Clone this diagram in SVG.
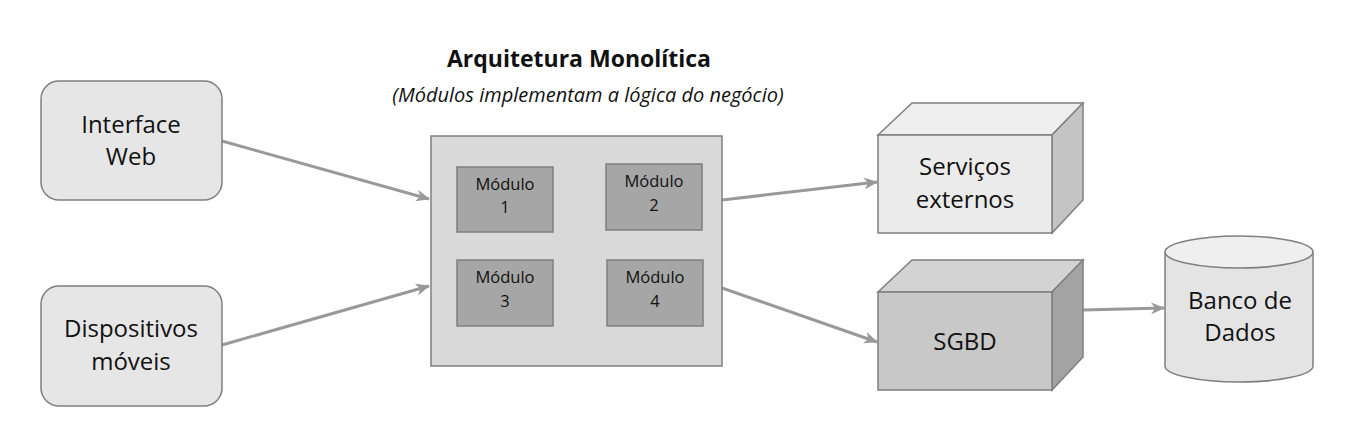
<svg xmlns="http://www.w3.org/2000/svg" width="1362" height="432" viewBox="0 0 1362 432">
<defs>
<style>
text{font-family:"Open Sans","Liberation Sans",sans-serif;fill:#111;text-anchor:middle}
.big{font-size:24px}
.mod{font-size:16.5px}
.stk{stroke:#7f7f7f;stroke-width:1.5}
.conn{stroke:#999;stroke-width:3;fill:none;marker-end:url(#ah)}
</style>
<marker id="ah" viewBox="0 0 14 12" refX="13" refY="6" markerWidth="14" markerHeight="12" markerUnits="userSpaceOnUse" orient="auto">
<path d="M0,0 L14,6 L0,12 L4,6 Z" fill="#999"/>
</marker>
</defs>
<rect width="1362" height="432" fill="#fff"/>
<g id="title">
<text x="579" y="67" style="font-weight:bold;font-size:23px">Arquitetura Monolítica</text>
<text x="588" y="102" style="font-style:italic;font-size:20px">(Módulos implementam a lógica do negócio)</text>
</g>
<g id="connectors">
<line class="conn" x1="222" y1="141" x2="429" y2="199"/>
<line class="conn" x1="222" y1="345" x2="429" y2="286"/>
<line class="conn" x1="722" y1="200" x2="877" y2="182"/>
<line class="conn" x1="722" y1="288" x2="877" y2="342"/>
<line class="conn" x1="1083" y1="310" x2="1164" y2="308"/>
</g>
<g id="interface-web">
<rect x="41" y="81" width="181" height="119" rx="18" fill="#e6e6e6" class="stk"/>
<text class="big" x="131" y="133">Interface</text>
<text class="big" x="131" y="165">Web</text>
</g>
<g id="dispositivos">
<rect x="41" y="286" width="181" height="120" rx="18" fill="#e6e6e6" class="stk"/>
<text class="big" x="131" y="337">Dispositivos</text>
<text class="big" x="131" y="370">móveis</text>
</g>
<g id="monolito">
<rect x="431" y="136" width="291" height="230" fill="#d9d9d9" class="stk"/>
</g>
<g id="modulo1">
<rect x="457" y="167" width="96" height="65" fill="#a6a6a6" class="stk"/>
<text class="mod" x="505" y="190">Módulo</text>
<text class="mod" x="505" y="213">1</text>
</g>
<g id="modulo2">
<rect x="606" y="164" width="96" height="66" fill="#a6a6a6" class="stk"/>
<text class="mod" x="654" y="187">Módulo</text>
<text class="mod" x="654" y="211">2</text>
</g>
<g id="modulo3">
<rect x="457" y="260" width="96" height="66" fill="#a6a6a6" class="stk"/>
<text class="mod" x="505" y="283">Módulo</text>
<text class="mod" x="505" y="307">3</text>
</g>
<g id="modulo4">
<rect x="607" y="260" width="96" height="66" fill="#a6a6a6" class="stk"/>
<text class="mod" x="655" y="283">Módulo</text>
<text class="mod" x="655" y="307">4</text>
</g>
<g id="servicos">
<path d="M878,135 L912,103 L1083,103 L1052,135 Z" fill="#eeeeee" class="stk"/>
<path d="M1052,135 L1083,103 L1083,200 L1052,233 Z" fill="#c4c4c4" class="stk"/>
<rect x="878" y="135" width="174" height="98" fill="#ebebeb" class="stk"/>
<text class="big" x="965" y="175">Serviços</text>
<text class="big" x="965" y="208">externos</text>
</g>
<g id="sgbd">
<path d="M878,292 L912,260 L1083,260 L1052,292 Z" fill="#d3d3d3" class="stk"/>
<path d="M1052,292 L1083,260 L1083,357 L1052,390 Z" fill="#a3a3a3" class="stk"/>
<rect x="878" y="292" width="174" height="98" fill="#c8c8c8" class="stk"/>
<text class="big" x="965" y="350">SGBD</text>
</g>
<g id="banco">
<path d="M1165,252 L1165,366 A74,16 0 0 0 1313,366 L1313,252" fill="#e4e4e4" class="stk"/>
<ellipse cx="1239" cy="252" rx="74" ry="16" fill="#efefef" class="stk"/>
<text class="big" x="1240" y="309">Banco de</text>
<text class="big" x="1240" y="341">Dados</text>
</g>
</svg>
